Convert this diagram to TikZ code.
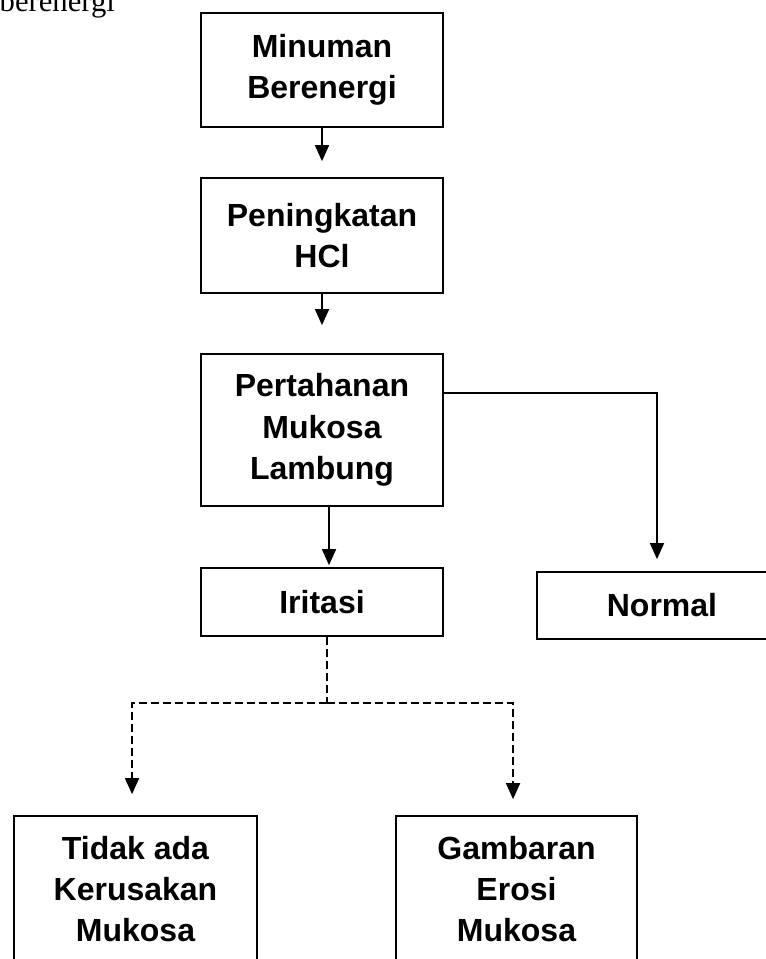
\documentclass[tikz,border=0pt]{standalone}
\usepackage{fontspec}
\setmainfont{Liberation Serif}
\setsansfont{Liberation Sans}
\usetikzlibrary{arrows.meta}

\begin{document}
\begin{tikzpicture}[
    x=0.75pt, y=-0.75pt,
    font=\sffamily\bfseries\fontsize{24}{31}\selectfont,
    box/.style={
      draw, line width=1.3pt, align=center,
      minimum width=181.5pt, inner sep=0pt
    },
    arr/.style={-{Triangle[length=12pt,width=10.5pt]}, line width=1.3pt},
    darr/.style={arr, dash pattern=on 6pt off 3pt}
  ]
    \useasboundingbox (0,0) rectangle (766,959);

    \node[anchor=base west, font=\rmfamily\fontsize{23}{28}\selectfont] (ttl) at (-5,12) {berenergi};

    \node[box, minimum height=85.5pt] (drink) at (322,70) {Minuman\\Berenergi};
    \node[box, minimum height=86.25pt] (hcl) at (322,235.5) {Peningkatan\\HCl};
    \node[box, minimum height=114pt] (defence) at (322,430) {Pertahanan\\Mukosa\\Lambung};
    \node[box, minimum height=51pt] (irr) at (322,602) {Iritasi};
    \node[box, minimum width=187.5pt, minimum height=50.25pt] (normal) at (662,605.5) {Normal};
    \node[box, minimum width=182.25pt, minimum height=109.5pt] (nodmg) at (135.5,889) {Tidak ada\\Kerusakan\\Mukosa};
    \node[box, minimum width=180.75pt, minimum height=109.5pt] (erosion) at (516.5,889) {Gambaran\\Erosi\\Mukosa};

    \draw[arr, shorten >=12pt] (drink) -- (hcl);
    \draw[arr, shorten >=21pt] (hcl) -- (defence);
    \draw[arr, shorten >=1.5pt] ([xshift=5.25pt]defence.south) -- ([xshift=5.25pt]irr.north);
    \draw[arr, shorten >=9pt] ([yshift=27.75pt]defence.east) -| ([xshift=-3.75pt]normal.north);

    % dashed split below Iritasi
    \coordinate (split) at (327,703);
    \draw[darr, -] ([xshift=3.75pt]irr.south) -- (split);
    \draw[darr, shorten >=15.75pt] (split) -| ([xshift=-2.6pt]nodmg.north);
    \draw[darr, shorten >=12pt] (split) -| ([xshift=-2.6pt]erosion.north);
  \end{tikzpicture}
\end{document}
